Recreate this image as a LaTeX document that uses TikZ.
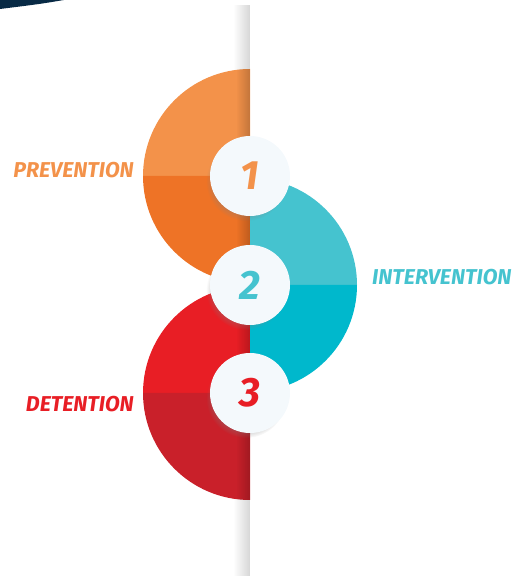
\documentclass[tikz,border=0pt]{standalone}
\usepackage{fontspec}
\setmainfont{Fira Sans}
\usetikzlibrary{shadows,fadings}
\definecolor{navy}{HTML}{082A45}
\definecolor{orA}{HTML}{F3924A}
\definecolor{orB}{HTML}{EE7326}
\definecolor{teA}{HTML}{45C3CF}
\definecolor{teB}{HTML}{00B8CC}
\definecolor{reA}{HTML}{E81E25}
\definecolor{reB}{HTML}{C9202A}
\definecolor{disc}{HTML}{F4F9FC}
\tikzset{
  numdisc/.style={circle, minimum size=80pt, inner sep=0pt, fill=disc,
    circular drop shadow={shadow xshift=-4pt, shadow yshift=-5pt, opacity=0.3, shadow scale=1.0},
    font=\fontsize{41}{41}\selectfont\bfseries\itshape},
  label/.style={font=\fontsize{21.5}{21.5}\selectfont\bfseries\itshape, inner sep=0pt}
}
\begin{document}
\begin{tikzpicture}[x=1pt,y=1pt]
\useasboundingbox (0,0) rectangle (521,576);
% dark corner sliver
\fill[navy] (0,576) -- (64,576) .. controls (40,572) .. (0,567) -- cycle;
% vertical shadow strip along the centre line
\fill[black, opacity=0.16, path fading=west] (233,0) rectangle (250,571);
% orange half disc
\fill[orA] (250,400) -- (143,400) arc (180:90:107) -- cycle;
\fill[orB] (250,400) -- (143,400) arc (180:270:107) -- cycle;
% red half disc
\fill[reA] (250,183) -- (143,183) arc (180:90:107) -- cycle;
\fill[reB] (250,183) -- (143,183) arc (180:270:107) -- cycle;
% shade on the left halves next to the line
\fill[black, opacity=0.2, path fading=west] (236,293) rectangle (250,507);
\fill[black, opacity=0.2, path fading=west] (236,76) rectangle (250,290);
% teal half disc
\fill[teA] (250,291) -- (357,291) arc (0:90:107) -- cycle;
\fill[teB] (250,291) -- (357,291) arc (0:-90:107) -- cycle;
% numbered discs
\node[numdisc, text=orA] (n1) at (250,400) {1};
\node[numdisc, text=teA] (n2) at (250,291) {2};
\node[numdisc, text=reA] (n3) at (250,183) {3};
% labels
\node[label, text=orA, anchor=east] (l1) at (134,406) {PREVENTION};
\node[label, text=teA, anchor=west] (l2) at (372,299) {INTERVENTION};
\node[label, text=reA, anchor=east] (l3) at (134,172) {DETENTION};
\end{tikzpicture}
\end{document}
